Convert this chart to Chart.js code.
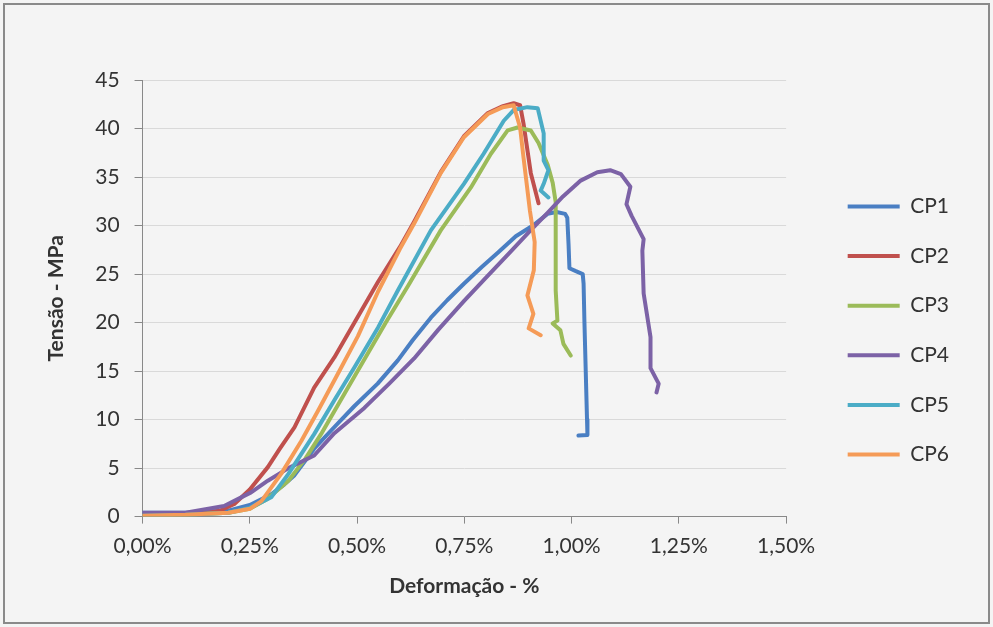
<!DOCTYPE html>
<html>
<head>
<meta charset="utf-8">
<script src="https://cdn.jsdelivr.net/npm/chart.js@4/dist/chart.umd.min.js"></script>
<style>
  html, body { margin: 0; padding: 0; background: #f4f4f4; }
  #wrap { position: relative; width: 993px; height: 627px; }
</style>
</head>
<body>
<div id="wrap"><canvas id="c" width="993" height="627"></canvas></div>
<script>
// ---- data (strain in %, stress in MPa) ----
const seriesNames = ['CP1', 'CP2', 'CP3', 'CP4', 'CP5', 'CP6'];
const xTicks = [0, 0.25, 0.5, 0.75, 1.0, 1.25, 1.5];

const strainCP1 = [0, 0.10, 0.20, 0.25, 0.30, 0.33, 0.353, 0.40, 0.44, 0.494, 0.548, 0.595, 0.63, 0.672, 0.71, 0.749, 0.79, 0.828, 0.87, 0.91, 0.944, 0.965, 0.985, 0.99, 0.993, 0.995, 1.01, 1.026, 1.028, 1.030, 1.033, 1.036, 1.037, 1.016];
const stressCP1 = [0.4, 0.4, 0.6, 1.2, 2.3, 3.3, 4.2, 7.0, 8.9, 11.4, 13.7, 16.1, 18.2, 20.5, 22.3, 24.0, 25.7, 27.2, 28.9, 30.0, 31.2, 31.4, 31.2, 30.8, 28.0, 25.6, 25.3, 25.0, 24.0, 20.0, 15.0, 10.0, 8.4, 8.35];

const strainCP2 = [0, 0.10, 0.18, 0.214, 0.25, 0.292, 0.32, 0.354, 0.40, 0.447, 0.494, 0.549, 0.60, 0.633, 0.695, 0.749, 0.805, 0.84, 0.865, 0.88, 0.888, 0.905, 0.923];
const stressCP2 = [0.1, 0.2, 0.6, 1.3, 2.8, 5.1, 7.0, 9.2, 13.3, 16.4, 20.0, 24.2, 27.8, 30.4, 35.5, 39.2, 41.6, 42.3, 42.6, 42.4, 40.5, 35.4, 32.3];

const strainCP3 = [0, 0.10, 0.20, 0.25, 0.29, 0.34, 0.38, 0.416, 0.479, 0.525, 0.567, 0.619, 0.695, 0.765, 0.812, 0.851, 0.874, 0.905, 0.923, 0.944, 0.956, 0.963, 0.963, 0.967, 0.956, 0.974, 0.981, 0.998];
const stressCP3 = [0.1, 0.2, 0.4, 0.8, 1.8, 3.7, 6.0, 8.5, 13.3, 16.8, 20.0, 23.8, 29.5, 33.9, 37.4, 39.8, 40.1, 39.8, 38.5, 36.3, 34.4, 32.4, 23.3, 20.2, 19.9, 19.2, 17.8, 16.6];

const strainCP4 = [0, 0.10, 0.19, 0.253, 0.292, 0.34, 0.40, 0.447, 0.517, 0.575, 0.633, 0.69, 0.749, 0.80, 0.858, 0.90, 0.944, 0.98, 1.02, 1.06, 1.09, 1.115, 1.137, 1.128, 1.14, 1.168, 1.165, 1.168, 1.184, 1.184, 1.203, 1.198];
const stressCP4 = [0.4, 0.4, 1.1, 2.5, 3.7, 5.0, 6.3, 8.6, 11.2, 13.7, 16.3, 19.3, 22.2, 24.6, 27.3, 29.3, 31.3, 33.0, 34.6, 35.5, 35.7, 35.3, 34.0, 32.2, 31.0, 28.6, 27.4, 23.0, 18.5, 15.3, 13.7, 12.8];

const strainCP5 = [0, 0.10, 0.20, 0.25, 0.30, 0.34, 0.40, 0.447, 0.494, 0.549, 0.595, 0.672, 0.749, 0.795, 0.842, 0.865, 0.897, 0.921, 0.935, 0.935, 0.946, 0.935, 0.928, 0.946];
const stressCP5 = [0.1, 0.2, 0.4, 0.9, 2.0, 4.4, 8.5, 12.0, 15.4, 19.5, 23.3, 29.5, 34.3, 37.4, 40.8, 41.9, 42.2, 42.1, 39.5, 36.7, 35.7, 34.3, 33.6, 32.9];

const strainCP6 = [0, 0.10, 0.20, 0.25, 0.277, 0.323, 0.37, 0.409, 0.455, 0.502, 0.549, 0.60, 0.633, 0.695, 0.749, 0.805, 0.84, 0.865, 0.88, 0.888, 0.903, 0.914, 0.912, 0.897, 0.911, 0.90, 0.928];
const stressCP6 = [0.1, 0.2, 0.4, 0.8, 1.6, 4.4, 7.8, 10.9, 14.7, 18.6, 23.2, 27.6, 30.2, 35.4, 39.1, 41.5, 42.2, 42.4, 40.1, 37.0, 31.5, 28.3, 25.4, 22.8, 20.9, 19.4, 18.7];

const strains = [strainCP1, strainCP2, strainCP3, strainCP4, strainCP5, strainCP6];
const stresses = [stressCP1, stressCP2, stressCP3, stressCP4, stressCP5, stressCP6];
const colors = ['#4a7fc3', '#c0504d', '#9bbb59', '#7c62a6', '#4bacc6', '#f59b57'];

const datasets = seriesNames.map((name, i) => ({
  label: name,
  data: strains[i].map((x, k) => ({ x: x, y: stresses[i][k] })),
  borderColor: colors[i],
  backgroundColor: colors[i],
  borderWidth: 4,
  pointRadius: 0,
  pointHoverRadius: 0,
  tension: 0,
  fill: false,
  borderCapStyle: 'round',
  borderJoinStyle: 'round',
  order: seriesNames.length - i,
  pointStyle: 'line'
}));

const frame = {
  id: 'frame',
  beforeDraw(chart) {
    const ctx = chart.ctx;
    ctx.save();
    ctx.fillStyle = '#f4f4f4';
    ctx.fillRect(0, 0, chart.width, chart.height);
    ctx.strokeStyle = '#8a8a8a';
    ctx.lineWidth = 2;
    ctx.strokeRect(4, 4, chart.width - 8, chart.height - 8);
    ctx.restore();
  }
};

const legendShift = {
  id: 'legendShift',
  afterLayout(chart) {
    const lg = chart.legend;
    if (!lg) return;
    lg.left += 33; lg.right += 33;
    lg.top -= 11; lg.bottom -= 11;
  }
};

const FONT = 'Lato, "Open Sans", sans-serif';

new Chart(document.getElementById('c'), {
  type: 'line',
  data: { datasets },
  plugins: [frame, legendShift],
  options: {
    responsive: false,
    animation: false,
    parsing: true,
    layout: { padding: { left: 20, top: 80, right: 67, bottom: 24 } },
    plugins: {
      legend: {
        position: 'right',
        labels: {
          usePointStyle: true,
          pointStyleWidth: 52,
          padding: 28.6,
          color: '#333',
          font: { family: FONT, size: 21 },
          sort: (a, b) => a.datasetIndex - b.datasetIndex
        }
      },
      tooltip: { enabled: false }
    },
    scales: {
      x: {
        type: 'linear',
        min: 0, max: 1.5,
        afterBuildTicks: (scale) => { scale.ticks = xTicks.map(v => ({ value: v })); },
        ticks: {
          color: '#333',
          padding: 10,
          maxRotation: 0,
          font: { family: FONT, size: 21 },
          callback: (v) => v.toFixed(2).replace('.', ',') + '%'
        },
        grid: { drawOnChartArea: false, drawTicks: true, tickLength: 7, color: '#888' },
        border: { display: true, color: '#888', width: 1 },
        title: {
          display: true,
          text: 'Deformação - %',
          color: '#333',
          font: { family: FONT, size: 21, weight: 'bold' },
          padding: { top: 5, bottom: 4 }
        }
      },
      y: {
        type: 'linear',
        min: 0, max: 45,
        ticks: {
          stepSize: 5,
          color: '#333',
          padding: 15,
          font: { family: FONT, size: 21 }
        },
        grid: { color: '#d9d9d9', tickColor: '#888', drawTicks: true, tickLength: 8 },
        border: { display: true, color: '#888', width: 1 },
        title: {
          display: true,
          text: 'Tensão - MPa',
          color: '#333',
          font: { family: FONT, size: 21, weight: 'bold' },
          padding: { top: 24, bottom: 11 }
        }
      }
    }
  }
});
</script>
</body>
</html>
